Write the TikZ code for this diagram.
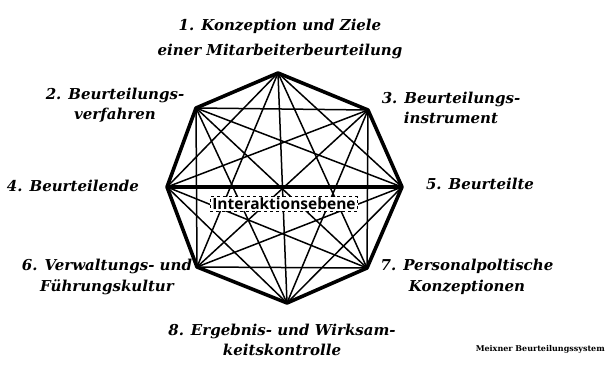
\documentclass[tikz,border=0pt]{standalone}
\usepackage{fontspec}
\setmainfont{DejaVu Serif}
\newfontfamily\ebenefont{Open Sans}
\usetikzlibrary{positioning}

\tikzset{
  lbl/.style={font=\fontsize{15}{20.5}\selectfont\bfseries\itshape,align=center,inner sep=0pt},
  chord/.style={line width=1.5pt},
  rim/.style={line width=3.6pt,line join=round},
}

\begin{document}
\begin{tikzpicture}[x=1pt,y=-1pt]
\useasboundingbox (0,0) rectangle (606,365);

% corners of the octagon
\coordinate (v1) at (278,73);
\coordinate (v2) at (196,108);
\coordinate (v3) at (368,110);
\coordinate (v4) at (167,187);
\coordinate (v5) at (402,187);
\coordinate (v6) at (197,267);
\coordinate (v7) at (367,268);
\coordinate (v8) at (287,303);

% every corner with every other one
\foreach \i in {1,...,8}{
  \foreach \j in {1,...,8}{
    \ifnum\i<\j \draw[chord] (v\i) -- (v\j); \fi
  }
}
\draw[rim] (v1) -- (v3) -- (v5) -- (v7) -- (v8) -- (v6) -- (v4) -- (v2) -- cycle;
\draw[rim] (v4) -- (v5);

\node[draw,dashed,fill=white,inner xsep=2pt,inner ysep=1.5pt,
      font=\ebenefont\fontsize{15.5}{17}\selectfont\bfseries] (ebene) at (284,204) {Interaktionsebene};

% the eight fields
\node[lbl] (ziele)  at (280,38.5) {1. Konzeption und Ziele\\[4.5pt]einer Mitarbeiterbeurteilung};
\node[lbl] (verf)   at (115,105) {2. Beurteilungs-\\verfahren};
\node[lbl] (instr)  at (451,108) {3. Beurteilungs-\\instrument};
\node[lbl] (bende)  at (73,186)  {4. Beurteilende};
\node[lbl] (bte)    at (480,184) {5. Beurteilte};
\node[lbl] (kultur) at (107,277) {6. Verwaltungs- und\\Führungskultur};
\node[lbl] (konz)   at (467,277) {7. Personalpoltische\\Konzeptionen};
\node[lbl] (kontr)  at (282,340) {8. Ergebnis- und Wirksam-\\keitskontrolle};

\node[font=\fontsize{8}{9}\selectfont\bfseries,anchor=east,inner sep=0pt] (quelle) at (605,349) {Meixner Beurteilungssystem};
\end{tikzpicture}
\end{document}
